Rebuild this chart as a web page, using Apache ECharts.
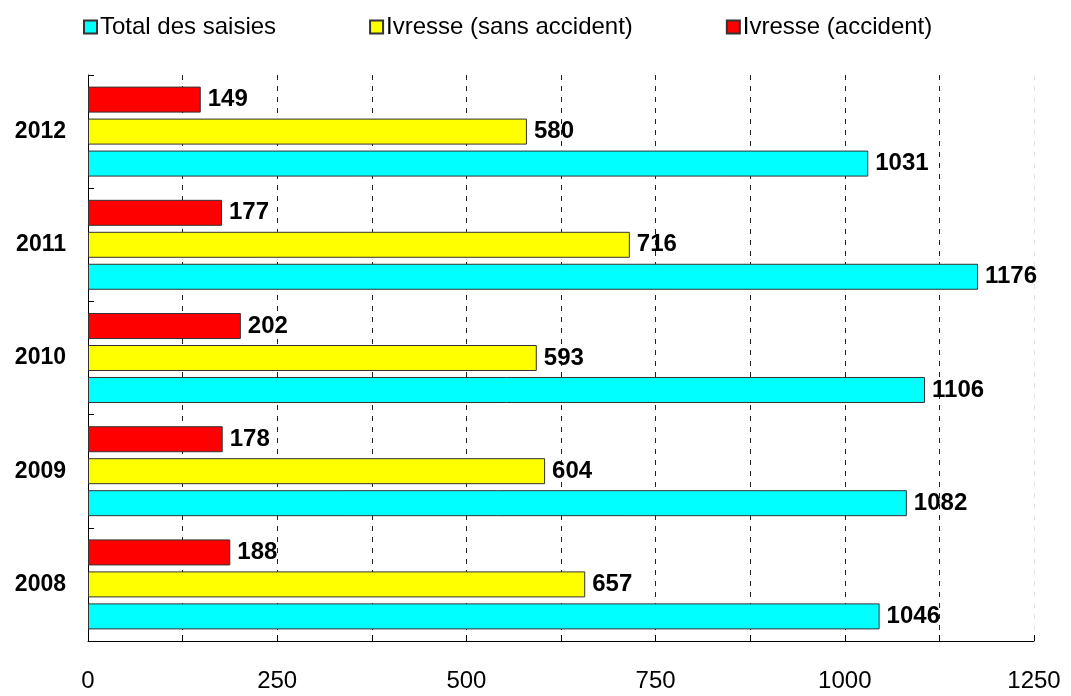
<!DOCTYPE html>
<html lang="fr">
  <head>
    <meta charset="UTF-8" />
    <title>Saisies</title>
    <script src="https://cdn.jsdelivr.net/npm/echarts@6/dist/echarts.min.js"></script>
  </head>
  <body style="margin: 0">
    <div id="main" style="width: 1071px; height: 696px"></div>
    <script type="text/javascript">
      const years = ["2008", "2009", "2010", "2011", "2012"];
      const totalSaisies = [1046, 1082, 1106, 1176, 1031];
      const ivresseSans = [657, 604, 593, 716, 580];
      const ivresseAccident = [188, 178, 202, 177, 149];

      const font = "Liberation Sans, Arial, sans-serif";
      const label = {
        show: true,
        position: "right",
        distance: 7,
        color: "#000",
        fontFamily: font,
        fontWeight: "bold",
        fontSize: 24,
      };
      const border = { borderColor: "#333", borderWidth: 1 };

      // dashed grid every 125, the last one almost invisible
      let gridColors = [];
      for (let i = 0; i < 10; i++) gridColors.push("#222");
      gridColors.push("#e4e4e4");

      let options = {
        animation: false,
        textStyle: { fontFamily: font },
        legend: {
          left: 78,
          top: 10,
          itemWidth: 13,
          itemHeight: 13,
          itemGap: 93,
          icon: "rect",
          textStyle: { fontSize: 24, color: "#000", padding: [0, 0, 0, -2] },
          data: ["Total des saisies", "Ivresse (sans accident)", "Ivresse (accident)"],
        },
        grid: { left: 88, right: 37, top: 75, bottom: 55 },
        xAxis: {
          type: "value",
          min: 0,
          max: 1250,
          interval: 125,
          axisLine: { show: true, lineStyle: { color: "#000" } },
          axisTick: { show: true, inside: true, length: 6, interval: 1, lineStyle: { color: "#000" } },
          axisLabel: {
            fontSize: 24,
            color: "#000",
            margin: 28,
            formatter: (v) => (v % 250 === 0 ? String(v) : ""),
          },
          splitLine: {
            show: true,
            lineStyle: { type: [5, 6], color: gridColors, width: 1 },
          },
        },
        yAxis: {
          type: "category",
          data: years,
          axisLine: { show: true, lineStyle: { color: "#000" } },
          axisTick: { show: true, inside: true, length: 6, lineStyle: { color: "#000" } },
          axisLabel: { fontSize: 23, fontWeight: "bold", color: "#000", margin: 22 },
        },
        series: [
          {
            name: "Ivresse (accident)",
            type: "bar",
            data: ivresseAccident,
            barWidth: 26,
            barGap: "23%",
            itemStyle: Object.assign({ color: "#FF0000" }, border),
            label: label,
          },
          {
            name: "Ivresse (sans accident)",
            type: "bar",
            data: ivresseSans,
            barWidth: 26,
            barGap: "23%",
            itemStyle: Object.assign({ color: "#FFFF00" }, border),
            label: label,
          },
          {
            name: "Total des saisies",
            type: "bar",
            data: totalSaisies,
            barWidth: 26,
            barGap: "23%",
            itemStyle: Object.assign({ color: "#00FFFF" }, border),
            label: label,
          },
        ],
      };
      let myChart = echarts.init(document.getElementById("main"));
      myChart.setOption(options);
    </script>
  </body>
</html>
